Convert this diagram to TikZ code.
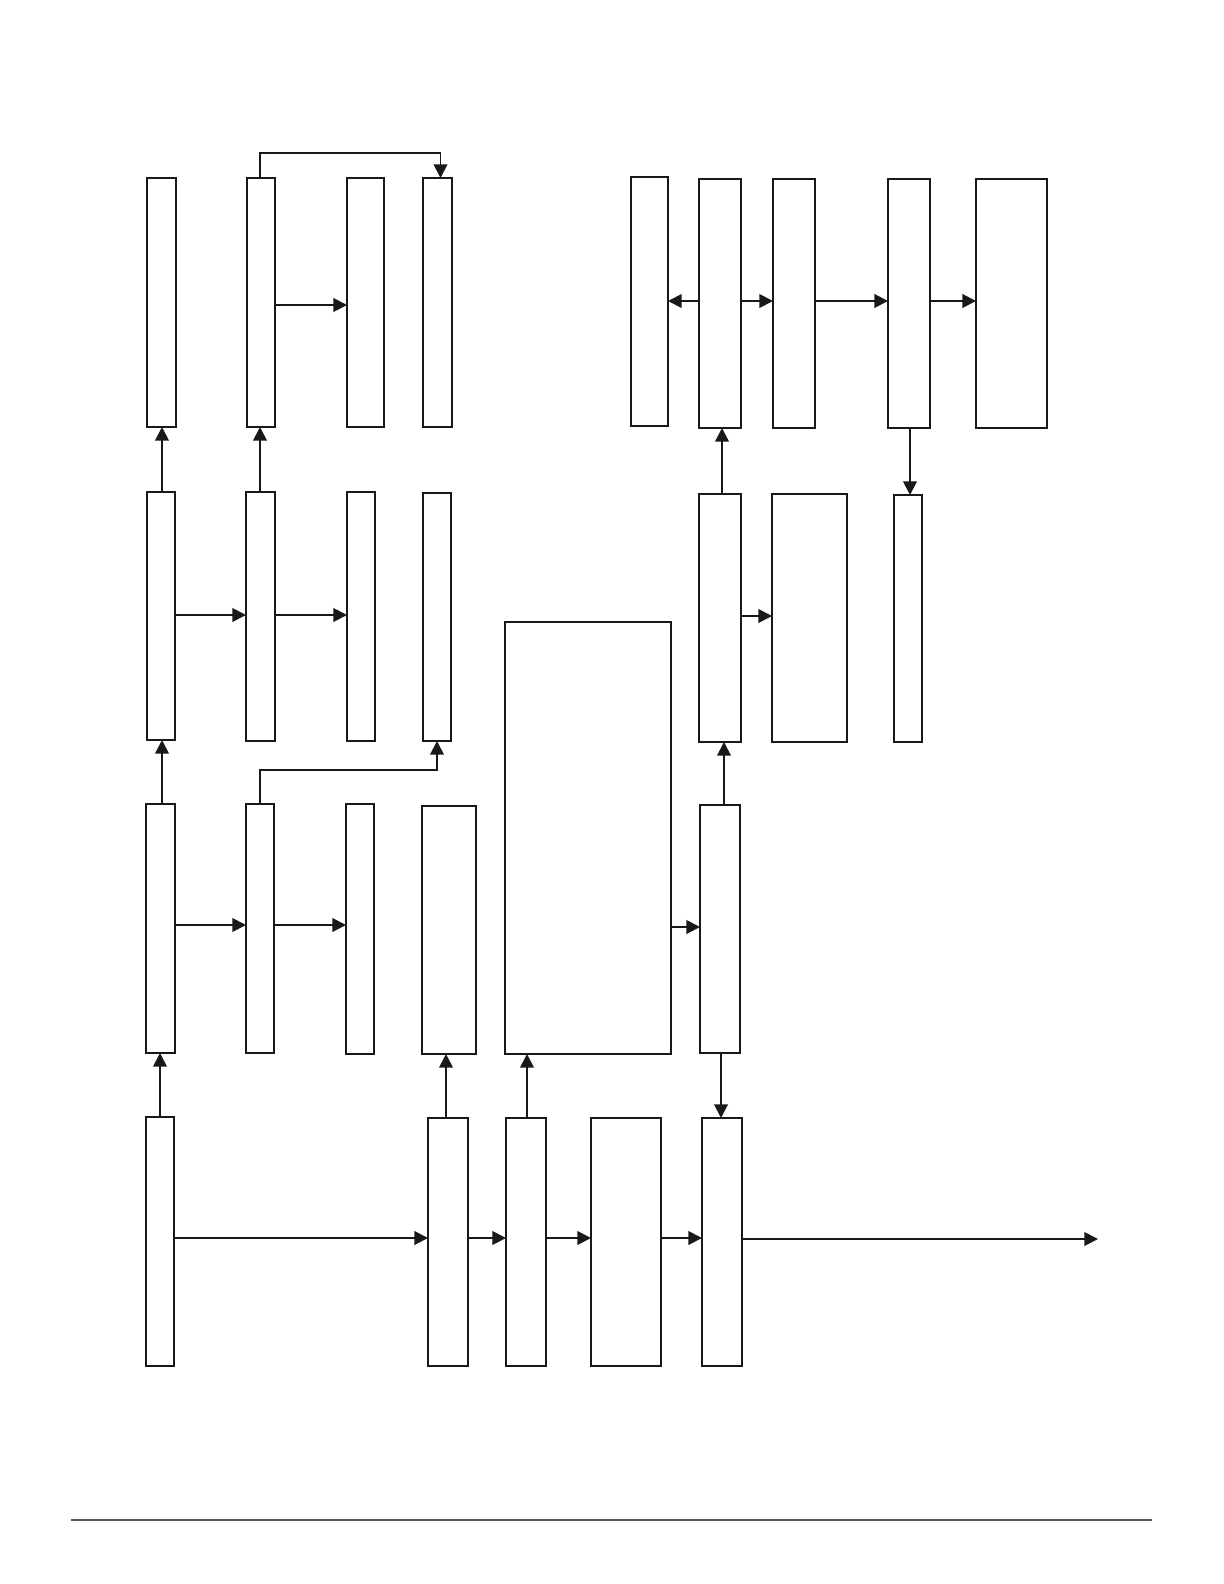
\documentclass[tikz,border=0pt]{standalone}
\usetikzlibrary{arrows.meta}
\newcommand{\bx}[5]{%
  \pgfmathsetmacro\cx{(#2+#4)/2}\pgfmathsetmacro\cy{(#3+#5)/2}%
  \pgfmathsetmacro\ww{(#4-#2)*0.5}\pgfmathsetmacro\hh{(#5-#3)*0.5}%
  \node[box,minimum width=\ww pt,minimum height=\hh pt] (#1) at (\cx,\cy) {};}
\begin{document}
\begin{tikzpicture}[x=0.5pt,y=-0.5pt,
  box/.style={draw=black!90,line width=0.8pt,fill=white,inner sep=0pt,outer sep=0pt,rectangle},
  arr/.style={draw=black!90,line width=0.95pt,-{Triangle[length=6.8pt,width=6.8pt]}},
  ln/.style={draw=black!90,line width=0.9pt}]
\useasboundingbox (0,0) rectangle (1224,1584);
% row 1
\bx{A1}{147}{178}{176}{427}
\bx{B1}{247}{178}{275}{427}
\bx{C1}{347}{178}{384}{427}
\bx{D1}{423}{178}{452}{427}
\bx{E1}{631}{177}{668}{426}
\bx{F1}{699}{179}{741}{428}
\bx{G1}{773}{179}{815}{428}
\bx{H1}{888}{179}{930}{428}
\bx{I1}{976}{179}{1047}{428}
% row 2
\bx{A2}{147}{492}{175}{740}
\bx{B2}{246}{492}{275}{741}
\bx{C2}{347}{492}{375}{741}
\bx{D2}{423}{493}{451}{741}
\bx{F2}{699}{494}{741}{742}
\bx{G2}{772}{494}{847}{742}
\bx{H2}{894}{495}{922}{742}
% big
\bx{P}{505}{622}{671}{1054}
% row 3
\bx{A3}{146}{804}{175}{1053}
\bx{B3}{246}{804}{274}{1053}
\bx{C3}{346}{804}{374}{1054}
\bx{D3}{422}{806}{476}{1054}
\bx{F3}{700}{805}{740}{1053}
% row 4
\bx{A4}{146}{1117}{174}{1366}
\bx{Q4}{428}{1118}{468}{1366}
\bx{R4}{506}{1118}{546}{1366}
\bx{S4}{591}{1118}{661}{1366}
\bx{T4}{702}{1118}{742}{1366}
% helper coordinates
\coordinate (y1) at (0,305);
\coordinate (y1r) at (0,301);
\coordinate (y2) at (0,615);
\coordinate (y2r) at (0,616);
\coordinate (y3) at (0,925);
\coordinate (yP) at (0,927);
\coordinate (y4) at (0,1238);
\coordinate (xA4) at (160,0);
\coordinate (xA3) at (162,0);
\coordinate (xB) at (260,0);
\coordinate (xD1) at (440.5,0);
\coordinate (xD2) at (437,0);
\coordinate (xQ) at (446,0);
\coordinate (xR) at (527,0);
\coordinate (xF3d) at (721,0);
\coordinate (xF3u) at (724,0);
\coordinate (xF2u) at (722,0);
\coordinate (xH) at (910,0);
\coordinate (top1) at (0,153);
\coordinate (top3) at (0,770);
\coordinate (outR) at (1098,1239);
% vertical arrows left
\draw[arr] (A4.north -| xA4) -- (A3.south -| xA4);
\draw[arr] (A3.north -| xA3) -- (A2.south -| xA3);
\draw[arr] (A2.north -| xA3) -- (A1.south -| xA3);
\draw[arr] (B2.north -| xB) -- (B1.south -| xB);
% loop connectors
\draw[arr] (B1.north -| xB) -- (xB |- top1) -- (xD1 |- top1) -- (D1.north -| xD1);
\draw[arr] (B3.north -| xB) -- (xB |- top3) -- (xD2 |- top3) -- (D2.south -| xD2);
% horizontal arrows left
\draw[arr] (B1.east |- y1) -- (C1.west |- y1);
\draw[arr] (A2.east |- y2) -- (B2.west |- y2);
\draw[arr] (B2.east |- y2) -- (C2.west |- y2);
\draw[arr] (A3.east |- y3) -- (B3.west |- y3);
\draw[arr] (B3.east |- y3) -- (C3.west |- y3);
% bottom row
\draw[arr] (Q4.north -| xQ) -- (D3.south -| xQ);
\draw[arr] (A4.east |- y4) -- (Q4.west |- y4);
\draw[arr] (Q4.east |- y4) -- (R4.west |- y4);
\draw[arr] (R4.east |- y4) -- (S4.west |- y4);
\draw[arr] (S4.east |- y4) -- (T4.west |- y4);
\draw[arr] (T4.east |- outR) -- (outR);
\draw[arr] (R4.north -| xR) -- (P.south -| xR);
% right part
\draw[arr] (P.east |- yP) -- (F3.west |- yP);
\draw[arr] (F3.south -| xF3d) -- (T4.north -| xF3d);
\draw[arr] (F3.north -| xF3u) -- (F2.south -| xF3u);
\draw[arr] (F2.east |- y2r) -- (G2.west |- y2r);
\draw[arr] (F2.north -| xF2u) -- (F1.south -| xF2u);
\draw[arr] (F1.west |- y1r) -- (E1.east |- y1r);
\draw[arr] (F1.east |- y1r) -- (G1.west |- y1r);
\draw[arr] (G1.east |- y1r) -- (H1.west |- y1r);
\draw[arr] (H1.east |- y1r) -- (I1.west |- y1r);
\draw[arr] (H1.south -| xH) -- (H2.north -| xH);
% footer rule
\draw[black!65,line width=0.6pt] (71,1520) -- (1152,1520);
\end{tikzpicture}
\end{document}
